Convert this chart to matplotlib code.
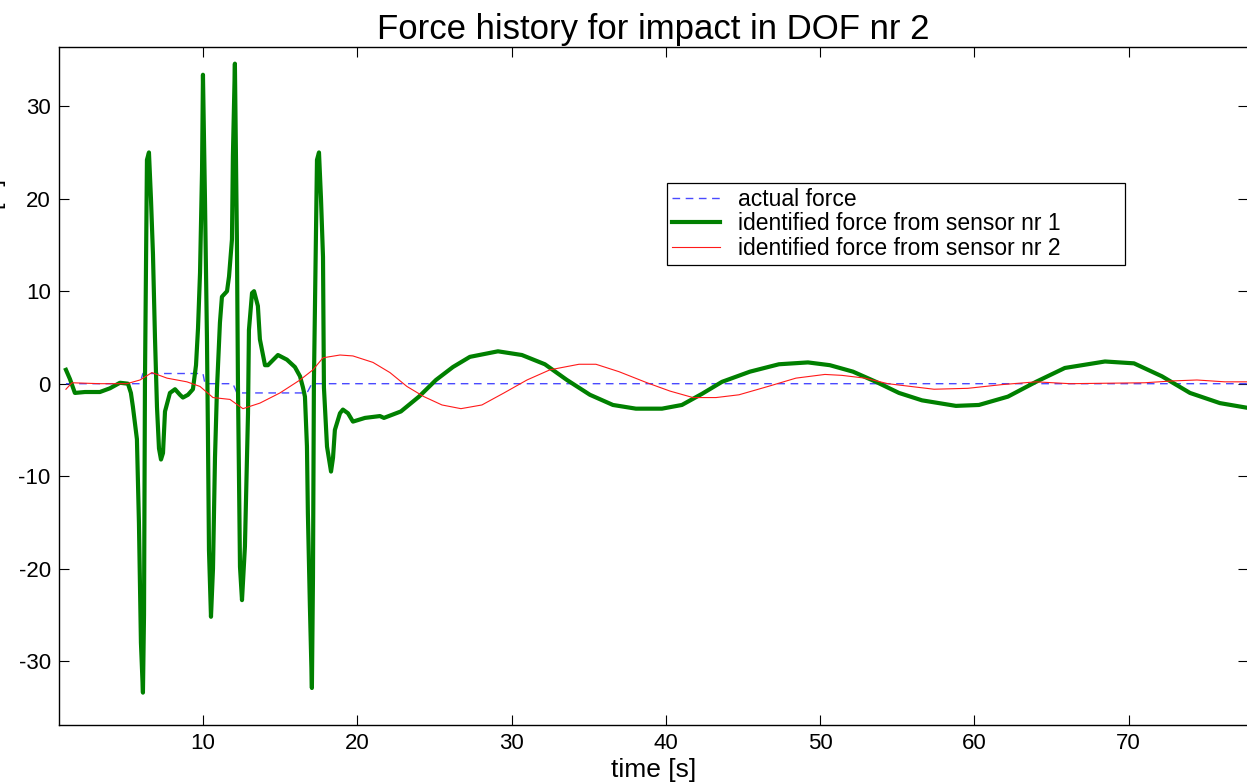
import matplotlib
matplotlib.use("Agg")
import matplotlib.pyplot as plt

plt.rcParams['font.family'] = ['Liberation Sans', 'DejaVu Sans']
plt.rcParams['axes.unicode_minus'] = False

# actual force (step impulses)
t_actual = [1.12, 5.90, 6.11, 10.00, 10.13, 11.94, 12.20, 16.74, 17.06, 77.66]
f_actual = [0.0, 0.0, 1.1, 1.1, 0.0, 0.0, -1.0, -1.0, 0.0, 0.0]

# identified force from sensor nr 1
t_s1 = [1.12, 1.38, 1.70, 2.35, 3.32, 3.97, 4.62, 5.14, 5.33, 5.46, 5.72, 5.85,
        5.98, 6.11, 6.18, 6.24, 6.37, 6.50, 6.63, 6.76, 6.89, 7.02, 7.15, 7.28,
        7.41, 7.54, 7.86, 8.19, 8.51, 8.70, 9.03, 9.35, 9.55, 9.68, 9.81, 9.94,
        10.00, 10.13, 10.26, 10.32, 10.39, 10.52, 10.65, 10.78, 10.91, 11.10,
        11.23, 11.56, 11.69, 11.88, 11.94, 12.07, 12.20, 12.27, 12.40, 12.53,
        12.72, 12.92, 12.98, 13.18, 13.31, 13.56, 13.69, 14.02, 14.21, 14.86,
        15.44, 15.96, 16.29, 16.48, 16.61, 16.74, 16.80, 16.93, 17.06, 17.13,
        17.19, 17.32, 17.39, 17.52, 17.65, 17.78, 17.84, 18.04, 18.30, 18.43,
        18.55, 18.88, 19.07, 19.40, 19.72, 20.50, 21.47, 21.73, 22.83, 24.00,
        25.10, 26.20, 27.30, 29.12, 30.67, 32.16, 33.59, 35.08, 36.57, 38.06,
        39.75, 41.04, 42.34, 43.64, 45.45, 47.33, 49.21, 50.63, 52.13, 53.62,
        55.11, 56.60, 58.80, 60.29, 62.17, 63.99, 65.86, 68.46, 70.34, 72.15,
        73.97, 75.91, 77.66]
f_s1 = [1.5, 0.5, -1.0, -0.9, -0.9, -0.5, 0.1, 0.0, -1.0, -2.5, -6.0, -15.0,
        -28.0, -33.4, -25.0, 0.0, 24.2, 25.0, 20.0, 14.0, 5.0, -2.5, -7.0, -8.2,
        -7.5, -3.0, -1.0, -0.6, -1.2, -1.5, -1.2, -0.6, 2.0, 6.0, 12.0, 23.0,
        33.4, 20.0, 4.8, -5.0, -18.0, -25.2, -20.0, -8.0, -0.5, 6.6,
        9.4, 10.0, 11.6, 15.6, 24.6, 34.6, 15.6, -0.4, -19.8, -23.4,
        -17.6, -3.2, 5.8, 9.8, 10.0, 8.4, 4.8, 2.0, 2.0, 3.1,
        2.6, 1.8, 0.8, -0.4, -1.4, -6.8, -14.0, -24.0, -32.9, -21.0,
        0.0, 15.6, 24.2, 25.0, 20.0, 13.7, -0.4, -6.8, -9.5, -8.0,
        -5.0, -3.2, -2.8, -3.2, -4.1, -3.7, -3.5, -3.7, -3.0, -1.4,
        0.4, 1.8, 2.9, 3.5, 3.1, 2.1, 0.4, -1.2, -2.3, -2.7,
        -2.7, -2.3, -1.1, 0.2, 1.3, 2.1, 2.3, 2.0, 1.3, 0.2,
        -1.0, -1.8, -2.4, -2.3, -1.4, 0.2, 1.7, 2.4, 2.2, 0.8,
        -1.0, -2.1, -2.6]

# identified force from sensor nr 2
t_s2 = [1.12, 1.51, 3.32, 5.07, 5.92, 6.69, 7.67, 8.96, 9.81, 10.65, 11.75,
        12.59, 13.69, 14.99, 16.29, 17.13, 17.78, 18.88, 19.72, 21.02, 22.12,
        23.22, 24.32, 25.49, 26.72, 28.08, 29.51, 31.00, 32.49, 34.37, 35.47,
        36.96, 38.78, 40.27, 41.76, 43.25, 44.74, 46.62, 48.43, 50.31, 51.41,
        52.90, 54.39, 55.88, 57.38, 59.58, 61.78, 63.99, 66.19, 71.05, 72.86,
        74.42, 76.23, 77.66]
f_s2 = [-0.6, 0.1, 0.0, 0.0, 0.4, 1.2, 0.6, 0.2, -0.3, -1.5, -1.7,
        -2.7, -2.1, -1.0, 0.4, 1.5, 2.8, 3.1, 3.0, 2.3, 1.2,
        -0.3, -1.4, -2.3, -2.7, -2.3, -1.0, 0.4, 1.5, 2.1, 2.1,
        1.3, 0.1, -0.8, -1.5, -1.5, -1.2, -0.3, 0.6, 1.0, 0.9,
        0.6, 0.0, -0.3, -0.6, -0.5, -0.1, 0.2, 0.0, 0.1, 0.3,
        0.4, 0.2, 0.2]

W, H = 1247, 782
fig = plt.figure(figsize=(W / 100, H / 100), dpi=100)
ax = fig.add_axes([59 / W, (H - 725) / H, (1248 - 59) / W, (725 - 47) / H])

ax.plot(t_actual, f_actual, color='#4a4aff', lw=1.0, ls=(0, (5.5, 4)),
        label='actual force')
ax.plot(t_s1, f_s1, color='#008000', lw=3.0, label='identified force from sensor nr 1')
ax.plot(t_s2, f_s2, color='#ff1a1a', lw=0.8, label='identified force from sensor nr 2')

ax.set_xlim(0.67, 77.73)
ax.set_ylim(-36.9, 36.4)
ax.set_xticks([10, 20, 30, 40, 50, 60, 70])
ax.set_yticks([-30, -20, -10, 0, 10, 20, 30])
ax.tick_params(direction='in', length=7, width=0.8, labelsize=16,
               top=True, right=True, pad=6)
for s in ax.spines.values():
    s.set_linewidth(1.0)

ax.set_title('Force history for impact in DOF nr 2', fontsize=25, pad=6)
ax.set_xlabel('time [s]', fontsize=19, labelpad=3)
fig.text(-0.004, 1 - 205 / H, 'F [N]', rotation=90, fontsize=17,
         ha='center', va='center')

leg = ax.legend(loc='upper left', bbox_to_anchor=(667 / W, 1 - 183 / H, (1125 - 667) / W, 0.0),
                bbox_transform=fig.transFigure, mode='expand', fontsize=16.5,
                frameon=True, fancybox=False, framealpha=1, edgecolor='black',
                borderpad=0.2, labelspacing=0.08, handlelength=2.1,
                handletextpad=0.8, borderaxespad=0)
leg.get_frame().set_linewidth(0.9)

fig.savefig('out.png', dpi=100)
